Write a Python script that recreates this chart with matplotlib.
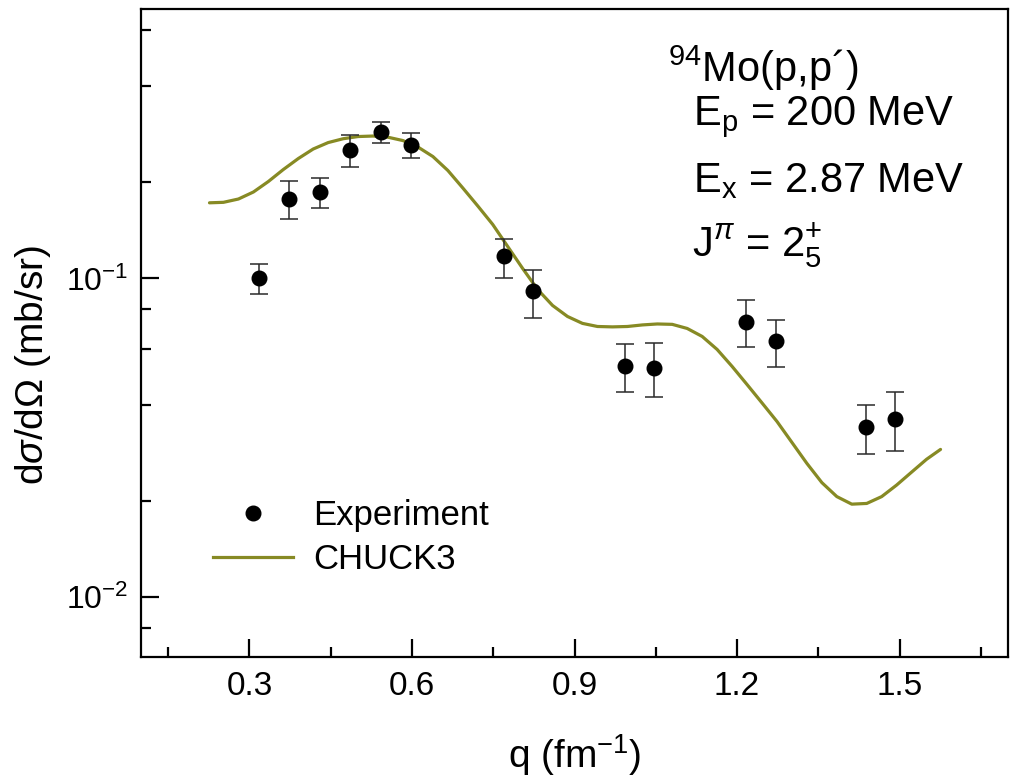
import matplotlib
matplotlib.use("Agg")
import matplotlib.pyplot as plt
from matplotlib.ticker import MultipleLocator, FormatStrFormatter, LogLocator, NullFormatter
from matplotlib.lines import Line2D
import numpy as np

# Measured cross sections for 94Mo(p,p') to the 2+_5 state
q_exp = [0.318, 0.373, 0.431, 0.485, 0.542, 0.598, 0.769, 0.823, 0.993, 1.047, 1.216, 1.271, 1.438, 1.491]
xs_exp = [0.1007, 0.178, 0.1865, 0.2532, 0.2889, 0.2624, 0.1175, 0.0911, 0.0532, 0.0525, 0.0731, 0.0635, 0.0342, 0.0363]
xs_err_top = [0.1114, 0.202, 0.207, 0.2828, 0.3106, 0.2855, 0.1331, 0.1065, 0.0621, 0.0627, 0.0853, 0.0740, 0.0402, 0.0439]
xs_err_bot = [0.0891, 0.154, 0.1667, 0.2244, 0.2663, 0.2383, 0.1005, 0.0749, 0.0442, 0.0425, 0.0611, 0.0527, 0.0282, 0.0287]

# CHUCK3 DWBA calculation
q_fit = [0.2264, 0.2521, 0.2798, 0.3074, 0.3350, 0.3626, 0.3902, 0.4178, 0.4454, 0.4730,
         0.5006, 0.5282, 0.5558, 0.5834, 0.6110, 0.6387, 0.6663, 0.6939, 0.7215, 0.7491,
         0.7767, 0.8043, 0.8319, 0.8595, 0.8871, 0.9147, 0.9424, 0.9700, 0.9976, 1.0252,
         1.0528, 1.0804, 1.1080, 1.1356, 1.1632, 1.1908, 1.2184, 1.2461, 1.2737, 1.3013,
         1.3289, 1.3565, 1.3841, 1.4117, 1.4393, 1.4669, 1.4945, 1.5221, 1.5497, 1.5755]
xs_fit = [0.1727, 0.1733, 0.1775, 0.1867, 0.2014, 0.2196, 0.2377, 0.2547, 0.2668, 0.2743,
          0.2787, 0.2797, 0.2773, 0.2707, 0.2584, 0.2412, 0.2181, 0.1922, 0.1688, 0.1477,
          0.1260, 0.1075, 0.0924, 0.0823, 0.0760, 0.0723, 0.0707, 0.0705, 0.0707, 0.0715,
          0.0720, 0.0718, 0.0697, 0.0658, 0.0599, 0.0530, 0.0465, 0.0407, 0.0356, 0.0306,
          0.0263, 0.0229, 0.0207, 0.0196, 0.0197, 0.0207, 0.0225, 0.0247, 0.0271, 0.0291]

plt.rcParams['font.family'] = ['Liberation Sans', 'DejaVu Sans']
plt.rcParams['mathtext.fontset'] = 'custom'
plt.rcParams['mathtext.rm'] = 'Liberation Sans'
plt.rcParams['mathtext.it'] = 'Liberation Sans:italic'
plt.rcParams['mathtext.bf'] = 'Liberation Sans:bold'

W, H = 1010, 779
fig = plt.figure(figsize=(W / 100, H / 100), dpi=100)
ax = fig.add_axes([141 / W, 1 - 657 / H, (1008 - 141) / W, (657 - 9) / H])

fit_color = '#878a24'
ax.plot(q_fit, xs_fit, color=fit_color, lw=2.3, zorder=2,
        solid_capstyle='round', solid_joinstyle='round')

xs_exp_a = np.array(xs_exp)
yerr = [xs_exp_a - np.array(xs_err_bot), np.array(xs_err_top) - xs_exp_a]
ax.errorbar(q_exp, xs_exp, yerr=yerr, fmt='o', color='black', markersize=10.5,
            ecolor='#2a2a2a', elinewidth=1.1, capsize=6.5, capthick=1.1, zorder=3)

ax.set_yscale('log')
ax.set_xlim(0.1, 1.7)
ax.set_ylim(0.0065, 0.70)

ax.xaxis.set_major_locator(MultipleLocator(0.3))
ax.xaxis.set_minor_locator(MultipleLocator(0.15))
ax.xaxis.set_major_formatter(FormatStrFormatter('%.1f'))
ax.yaxis.set_major_locator(LogLocator(base=10))
ax.yaxis.set_minor_locator(LogLocator(base=10, subs=(2, 4, 6, 8)))
ax.yaxis.set_minor_formatter(NullFormatter())

for s in ax.spines.values():
    s.set_linewidth(1.6)
ax.tick_params(which='both', direction='in', top=False, right=False, width=1.6)
ax.tick_params(which='major', length=13)
ax.tick_params(which='minor', length=7)
ax.tick_params(axis='x', which='major', labelsize=24, pad=10)
ax.tick_params(axis='y', which='major', labelsize=23, pad=9)

fig.text(575 / W, 1 - 768 / H, 'q (fm$^{-1}$)', fontsize=28, ha='center', va='baseline')
fig.text(33 / W, 1 - 365 / H, r'd$\sigma$/d$\Omega$ (mb/sr)', fontsize=28,
         ha='center', va='center', rotation=90)

# Reaction and state information
ann = dict(fontsize=30, ha='left', va='baseline')
fig.text(668 / W, 1 - 82 / H, "$^{94}$Mo(p,p\u00b4)", **ann)
fig.text(693 / W, 1 - 125 / H, r"E$_{\mathrm{p}}$ = 200 MeV", **ann)
fig.text(693 / W, 1 - 192 / H, r"E$_{\mathrm{x}}$ = 2.87 MeV", **ann)
fig.text(692 / W, 1 - 257 / H, r"J$^{\pi}$ = 2$^{+}_{5}$", **ann)

handles = [Line2D([], [], marker='o', ls='none', color='black', markersize=10.5),
           Line2D([], [], color=fit_color, lw=2.3)]
ax.legend(handles, ['Experiment', 'CHUCK3'], loc='upper left',
          bbox_to_anchor=((213 - 141) / 867, (657 - 499) / 648), frameon=False,
          fontsize=25, handlelength=2.3, handletextpad=0.58, labelspacing=0.32,
          borderpad=0, borderaxespad=0)

fig.savefig('out.png', dpi=100)
